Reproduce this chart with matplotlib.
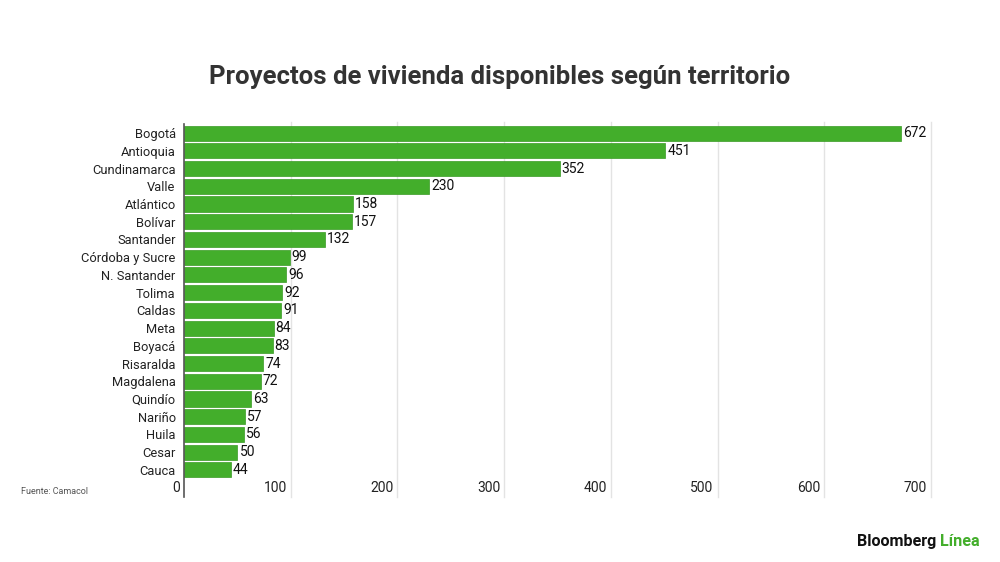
import matplotlib.pyplot as plt
from matplotlib.transforms import offset_copy

plt.rcParams["font.family"] = ["Roboto", "DejaVu Sans"]

territorios = ["Bogotá", "Antioquia", "Cundinamarca", "Valle", "Atlántico", "Bolívar",
               "Santander", "Córdoba y Sucre", "N. Santander", "Tolima", "Caldas", "Meta",
               "Boyacá", "Risaralda", "Magdalena", "Quindío", "Nariño", "Huila", "Cesar", "Cauca"]
proyectos = [672, 451, 352, 230, 158, 157, 132, 99, 96, 92, 91, 84, 83, 74, 72, 63, 57, 56, 50, 44]
x_ticks = [0, 100, 200, 300, 400, 500, 600, 700]

GREEN = "#43ae2b"

fig = plt.figure(figsize=(10, 5.62), dpi=100)
ax = fig.add_axes([0.184, 0.148, 0.747, 0.631])

ypos = list(range(len(territorios)))
ax.barh(ypos, proyectos, height=0.85, color=GREEN, edgecolor="#3a9a25", linewidth=0.5, zorder=3)
ax.set_ylim(len(territorios) - 0.5, -0.5)
ax.set_xlim(0, 700)

for y, v in zip(ypos, proyectos):
    ax.annotate(str(v), (v, y), xytext=(1.5, 0), textcoords="offset points",
                ha="left", va="center", fontsize=10, color="#111111", zorder=4)

ax.set_yticks(ypos)
ax.set_yticklabels(territorios, fontsize=9.3, color="#222222")
ax.tick_params(axis="y", length=0, pad=6)
ax.set_xticks([])

# vertical gridlines extending below the plot, labels left of each line
xt = ax.get_xaxis_transform()
for t in x_ticks:
    if t == 0:
        ax.plot([t, t], [-0.05, 1.0], transform=xt, color="#555555", lw=1.2, clip_on=False, zorder=5)
    else:
        ax.plot([t, t], [-0.05, 1.005], transform=xt, color="#e3e3e3", lw=1, clip_on=False, zorder=1)
    ax.text(t, -0.027, str(t), transform=offset_copy(xt, fig=fig, x=-4, y=0, units="dots"),
            ha="right", va="center", fontsize=10, color="#222222")

for s in ax.spines.values():
    s.set_visible(False)

fig.text(0.5, 0.863, "Proyectos de vivienda disponibles según territorio", ha="center", va="center",
         fontsize=18.5, fontweight="bold", color="#333333")
fig.text(0.021, 0.126, "Fuente: Camacol", ha="left", va="center", fontsize=6.5, color="#555555")

t1 = fig.text(0.857, 0.037, "Bloomberg ", ha="left", va="center", fontsize=11.6, fontweight="bold", color="#111111")
fig.canvas.draw()
bb = t1.get_window_extent()
fig.text(bb.x1 / fig.bbox.width, 0.037, "Línea", ha="left", va="center", fontsize=11.6, fontweight="bold", color=GREEN)

fig.savefig("out.png", dpi=100)
